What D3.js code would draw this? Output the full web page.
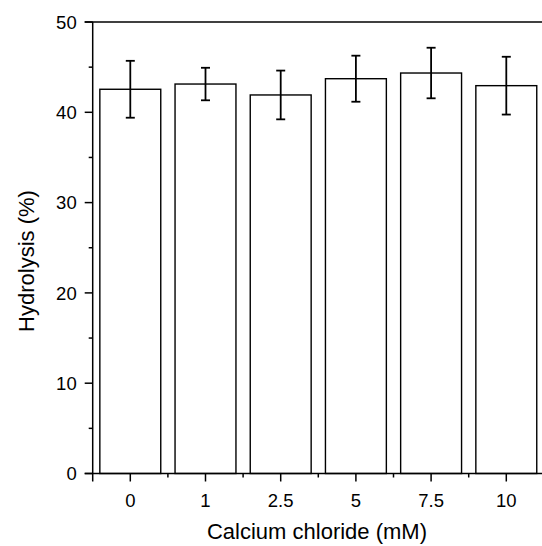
<!DOCTYPE html>
<html><head><meta charset="utf-8">
<script src="https://cdn.jsdelivr.net/npm/d3@7"></script>
<style>body{margin:0;background:#fff}svg{display:block}text{font-family:"Liberation Sans",Arial,sans-serif;fill:#000}</style>
</head><body><svg id="c" width="542" height="546"></svg>
<script>
const categories = ["0","1","2.5","5","7.5","10"];
const hydrolysis = [42.55, 43.13, 41.92, 43.72, 44.35, 42.95];
const errors = [3.15, 1.8, 2.7, 2.55, 2.8, 3.2];
const yTicks = [0,10,20,30,40,50];
const yMinor = [5,15,25,35,45];

const svg = d3.select("#c");
const x0 = 92.7, y0 = 473.5, yTop = 22;
const x = d3.scaleBand().domain(categories).range([x0, x0 + 6*75.2]).paddingInner(0.19).paddingOuter(0.095);
const y = d3.scaleLinear().domain([0,50]).range([y0, yTop]);

// bars
svg.append("g").selectAll("rect").data(categories).join("rect")
  .attr("x", d=>x(d)).attr("width", x.bandwidth())
  .attr("y", (d,i)=>y(hydrolysis[i])).attr("height",(d,i)=>y0-y(hydrolysis[i]))
  .attr("fill","#fff").attr("stroke","#000").attr("stroke-width",1.4);

// error bars
const eg = svg.append("g").attr("stroke","#000").attr("stroke-width",1.8);
categories.forEach((c,i)=>{
  const cx = x(c)+x.bandwidth()/2;
  eg.append("line").attr("x1",cx).attr("x2",cx).attr("y1",y(hydrolysis[i]+errors[i])).attr("y2",y(hydrolysis[i]-errors[i]));
  [hydrolysis[i]+errors[i], hydrolysis[i]-errors[i]].forEach(v=>{
    eg.append("line").attr("x1",cx-4.5).attr("x2",cx+4.5).attr("y1",y(v)).attr("y2",y(v));
  });
});

// axes
const ax = svg.append("g").attr("stroke","#000").attr("stroke-width",1.5);
ax.append("line").attr("x1",x0).attr("x2",x0).attr("y1",yTop).attr("y2",y0+8);
ax.append("line").attr("x1",x0-8).attr("x2",542).attr("y1",y0).attr("y2",y0);
ax.append("line").attr("x1",x0-8).attr("x2",542).attr("y1",yTop).attr("y2",yTop);
yTicks.forEach(t=>ax.append("line").attr("x1",x0-8).attr("x2",x0).attr("y1",y(t)).attr("y2",y(t)));
yMinor.forEach(t=>ax.append("line").attr("x1",x0-4).attr("x2",x0).attr("y1",y(t)).attr("y2",y(t)));
categories.forEach((c,i)=>{
  const cx = x(c)+x.bandwidth()/2;
  ax.append("line").attr("x1",cx).attr("x2",cx).attr("y1",y0).attr("y2",y0+8);
  const mx = x0 + x.step()*(i+1);
  ax.append("line").attr("x1",mx).attr("x2",mx).attr("y1",y0).attr("y2",y0+4);
});

svg.append("g").selectAll("text").data(yTicks).join("text")
  .attr("x", x0-16).attr("y", d=>y(d)).attr("dy","0.36em")
  .attr("text-anchor","end").attr("font-size",18.5).text(d=>d);
svg.append("g").selectAll("text").data(categories).join("text")
  .attr("x", d=>x(d)+x.bandwidth()/2).attr("y", 507)
  .attr("text-anchor","middle").attr("font-size",18.5).text(d=>d);

svg.append("text").attr("x",317).attr("y",539).attr("text-anchor","middle").attr("font-size",22).text("Calcium chloride (mM)");
svg.append("text").attr("transform","translate(34,261) rotate(-90)").attr("text-anchor","middle").attr("font-size",22).text("Hydrolysis (%)");
</script></body></html>
